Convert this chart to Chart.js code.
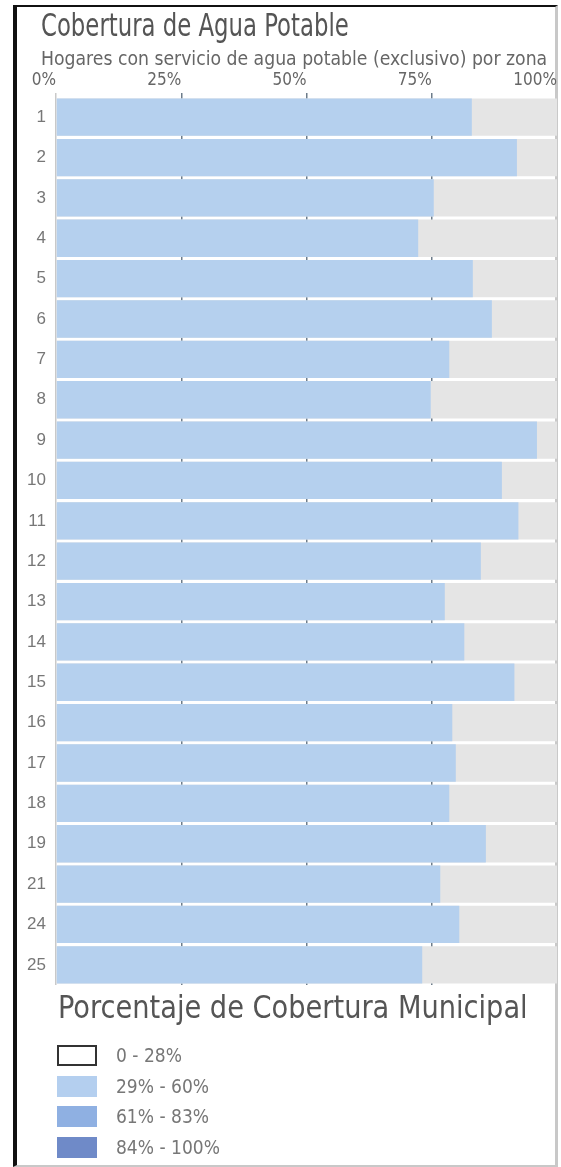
<!DOCTYPE html>
<html>
<head>
<meta charset="utf-8">
<script src="https://cdn.jsdelivr.net/npm/chart.js@4/dist/chart.umd.min.js"></script>
<style>
    html, body { margin: 0; padding: 0; background: #fff; }
    #wrap { position: relative; width: 561px; height: 1167px; overflow: hidden; }
    #frame {
        position: absolute; left: 13px; top: 5px; width: 538px; height: 1158px;
        border-left: 4px solid #111; border-top: 2px solid #111;
        border-right: 3px solid #c8c8c8; border-bottom: 2px solid #c8c8c8;
    }
    #chart { position: absolute; left: 0; top: 0; }
    .txt { position: absolute; white-space: nowrap; font-family: "DejaVu Sans Condensed", "Liberation Sans", sans-serif; transform-origin: 0 0; }
    #title { left: 41px; top: 9px; font-size: 32px; line-height: 32px; color: #555; }
    #subtitle { left: 41px; top: 48px; font-size: 20px; line-height: 20px; color: #666; }
    #legTitle { left: 58px; top: 991px; font-size: 32px; line-height: 32px; color: #555; }
    .item { left: 57px; height: 21px; font-size: 19px; line-height: 21px; color: #777; }
    .item span { display: inline-block; width: 40px; height: 21px; vertical-align: top; margin-right: 19px; box-sizing: border-box; }
</style>
</head>
<body>
<div id="wrap">
    <div id="frame"></div>
    <canvas id="chart" width="561" height="1167"></canvas>
    <div class="txt" id="title" data-w="308">Cobertura de Agua Potable</div>
    <div class="txt" id="subtitle" data-w="506">Hogares con servicio de agua potable (exclusivo) por zona</div>
    <div class="txt" id="legTitle" data-w="469">Porcentaje de Cobertura Municipal</div>
    <div id="legend"></div>
</div>
<script>
// zonas y porcentaje de hogares con agua potable exclusiva
var zonas = ['1', '2', '3', '4', '5', '6', '7', '8', '9', '10', '11',
    '12', '13', '14', '15', '16', '17', '18', '19', '21', '24', '25'];
var cobertura = [83, 92, 75.4, 72.3, 83.2, 87, 78.5, 74.8, 96, 89, 92.3,
    84.8, 77.6, 81.5, 91.5, 79.1, 79.8, 78.5, 85.8, 76.7, 80.5, 73.1];
var total = [100, 100, 100, 100, 100, 100, 100, 100, 100, 100, 100,
    100, 100, 100, 100, 100, 100, 100, 100, 100, 100, 100];
var ticksX = [0, 25, 50, 75, 100];

var rangos = ['0 - 28%', '29% - 60%', '61% - 83%', '84% - 100%'];
var rangoClr = ['#ffffff', '#b4cfef', '#8fb0e2', '#6f8ac8'];

const barClr = '#b5d0ee';
const bgClr = '#e5e5e5';
const gridClr = '#6d7c8a';

// leyenda de cobertura municipal
var legend = document.getElementById('legend');
rangos.forEach(function (r, i) {
    var d = document.createElement('div');
    d.className = 'txt item';
    d.style.top = (1045 + i * 30.5) + 'px';
    var sw = document.createElement('span');
    sw.style.background = rangoClr[i];
    if (i === 0) sw.style.border = '2px solid #333';
    d.appendChild(sw);
    d.appendChild(document.createTextNode(r));
    legend.appendChild(d);
});

// condensar los textos al ancho del original
document.querySelectorAll('[data-w]').forEach(function (el) {
    var k = Number(el.dataset.w) / el.offsetWidth;
    el.style.transform = 'scaleX(' + k.toFixed(3) + ')';
});

var chartData = {
    labels: zonas,
    datasets: [{
        label: 'Cobertura',
        data: cobertura,
        backgroundColor: barClr,
        order: 0
    }, {
        label: 'Total',
        data: total,
        backgroundColor: bgClr,
        order: 1
    }]
};

const barConfig = {
    type: 'bar',
    data: chartData,
    options: {
        indexAxis: 'y',
        responsive: false,
        animation: false,
        grouped: false,
        categoryPercentage: 1,
        barPercentage: 0.925,
        layout: {
            padding: { left: 20, right: 4, top: 69, bottom: 182 }
        },
        scales: {
            x: {
                position: 'top',
                min: 0,
                max: 100,
                z: 1,
                afterFit: function (scale) { scale.height = 28; },
                afterBuildTicks: function (scale) {
                    scale.ticks = ticksX.map(function (v) { return { value: v }; });
                },
                border: { display: false },
                grid: {
                    color: function (c) {
                        var v = c.tick ? c.tick.value : 0;
                        return (v === 0 || v === 100) ? '#c9c9c9' : gridClr;
                    },
                    lineWidth: 1.5,
                    tickLength: 4
                },
                ticks: {
                    align: 'end',
                    padding: 2,
                    color: '#666',
                    font: { family: '"DejaVu Sans Condensed", sans-serif', size: 17 },
                    callback: function (v) { return v + '%'; }
                }
            },
            y: {
                afterFit: function (scale) { scale.width = 36; },
                border: { display: false },
                grid: { display: false, drawTicks: false },
                ticks: {
                    padding: 10,
                    color: '#777',
                    font: { family: '"Liberation Sans", sans-serif', size: 17 }
                }
            }
        },
        plugins: {
            legend: { display: false },
            tooltip: { enabled: false }
        }
    }
};
new Chart(document.getElementById('chart'), barConfig);
</script>
</body>
</html>
